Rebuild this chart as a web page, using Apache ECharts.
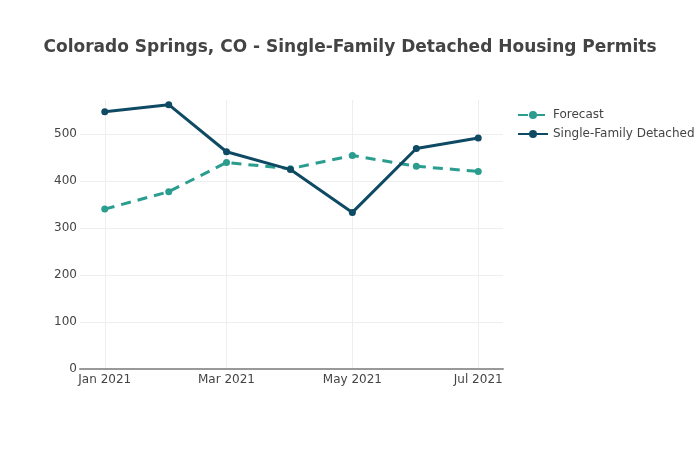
<!DOCTYPE html>
<html>
<head>
<meta charset="utf-8">
<script src="https://cdn.jsdelivr.net/npm/echarts@6/dist/echarts.min.js"></script>
<style>
  html, body { margin: 0; padding: 0; background: #fff; }
  #chart { width: 700px; height: 450px; }
</style>
</head>
<body>
<div id="chart"></div>
<script>
const months = ['2021-01-01', '2021-02-01', '2021-03-01', '2021-04-01', '2021-05-01', '2021-06-01', '2021-07-01'];
const forecast = [340, 377, 439, 426, 454, 431, 420];
const detached = [547, 562, 462, 424, 333, 469, 491];
const xTicks = ['2021-01-01', '2021-03-01', '2021-05-01', '2021-07-01'];
const yTicks = [0, 100, 200, 300, 400, 500];

const monthNames = ['Jan', 'Feb', 'Mar', 'Apr', 'May', 'Jun', 'Jul', 'Aug', 'Sep', 'Oct', 'Nov', 'Dec'];
const font = 'Verdana, "DejaVu Sans", sans-serif';

// dates go on a plain value axis as UTC milliseconds
const toTime = (d) => new Date(d + 'T00:00:00Z').getTime();
const toPairs = (vals) => months.map((m, i) => [toTime(m), vals[i]]);
const xTickTimes = xTicks.map(toTime);

const chart = echarts.init(document.getElementById('chart'));

chart.setOption({
    animation: false,
    textStyle: { fontFamily: font },
    title: {
        text: 'Colorado Springs, CO - Single-Family Detached Housing Permits',
        left: 'center',
        top: 34,
        textStyle: { fontFamily: font, fontSize: 17, fontWeight: 'bold', color: '#444' }
    },
    legend: {
        orient: 'vertical',
        left: 512,
        top: 104,
        itemWidth: 30,
        itemHeight: 10,
        itemGap: 7,
        textStyle: { fontFamily: font, fontSize: 12, color: '#444' },
        data: ['Forecast', 'Single-Family Detached']
    },
    grid: { left: 80, right: 197, top: 100, bottom: 81 },
    xAxis: {
        type: 'value',
        min: Date.UTC(2020, 11, 20),
        max: Date.UTC(2021, 6, 13),
        axisLine: { show: true, onZero: false, lineStyle: { color: '#999', width: 2 } },
        axisTick: { show: false, customValues: xTickTimes },
        axisLabel: {
            customValues: xTickTimes,
            margin: 5,
            fontSize: 12,
            color: '#444',
            formatter: (v) => {
                const d = new Date(v);
                return monthNames[d.getUTCMonth()] + ' ' + d.getUTCFullYear();
            }
        },
        splitLine: { show: true, lineStyle: { color: '#eee', width: 1 } }
    },
    yAxis: {
        type: 'value',
        min: 0,
        max: 572,
        axisLine: { show: false },
        axisTick: { show: false, customValues: yTicks },
        axisLabel: { customValues: yTicks, margin: 3, fontSize: 12, color: '#444' },
        splitLine: { show: true, lineStyle: { color: '#eee', width: 1 } }
    },
    series: [
        {
            name: 'Forecast',
            type: 'line',
            data: toPairs(forecast),
            symbol: 'circle',
            symbolSize: 7,
            lineStyle: { color: '#2a9d8f', width: 3, type: [10, 7] },
            itemStyle: { color: '#2a9d8f' },
            z: 2
        },
        {
            name: 'Single-Family Detached',
            type: 'line',
            data: toPairs(detached),
            symbol: 'circle',
            symbolSize: 7,
            lineStyle: { color: '#0f4a64', width: 3 },
            itemStyle: { color: '#0f4a64' },
            z: 3
        }
    ]
});
</script>
</body>
</html>
